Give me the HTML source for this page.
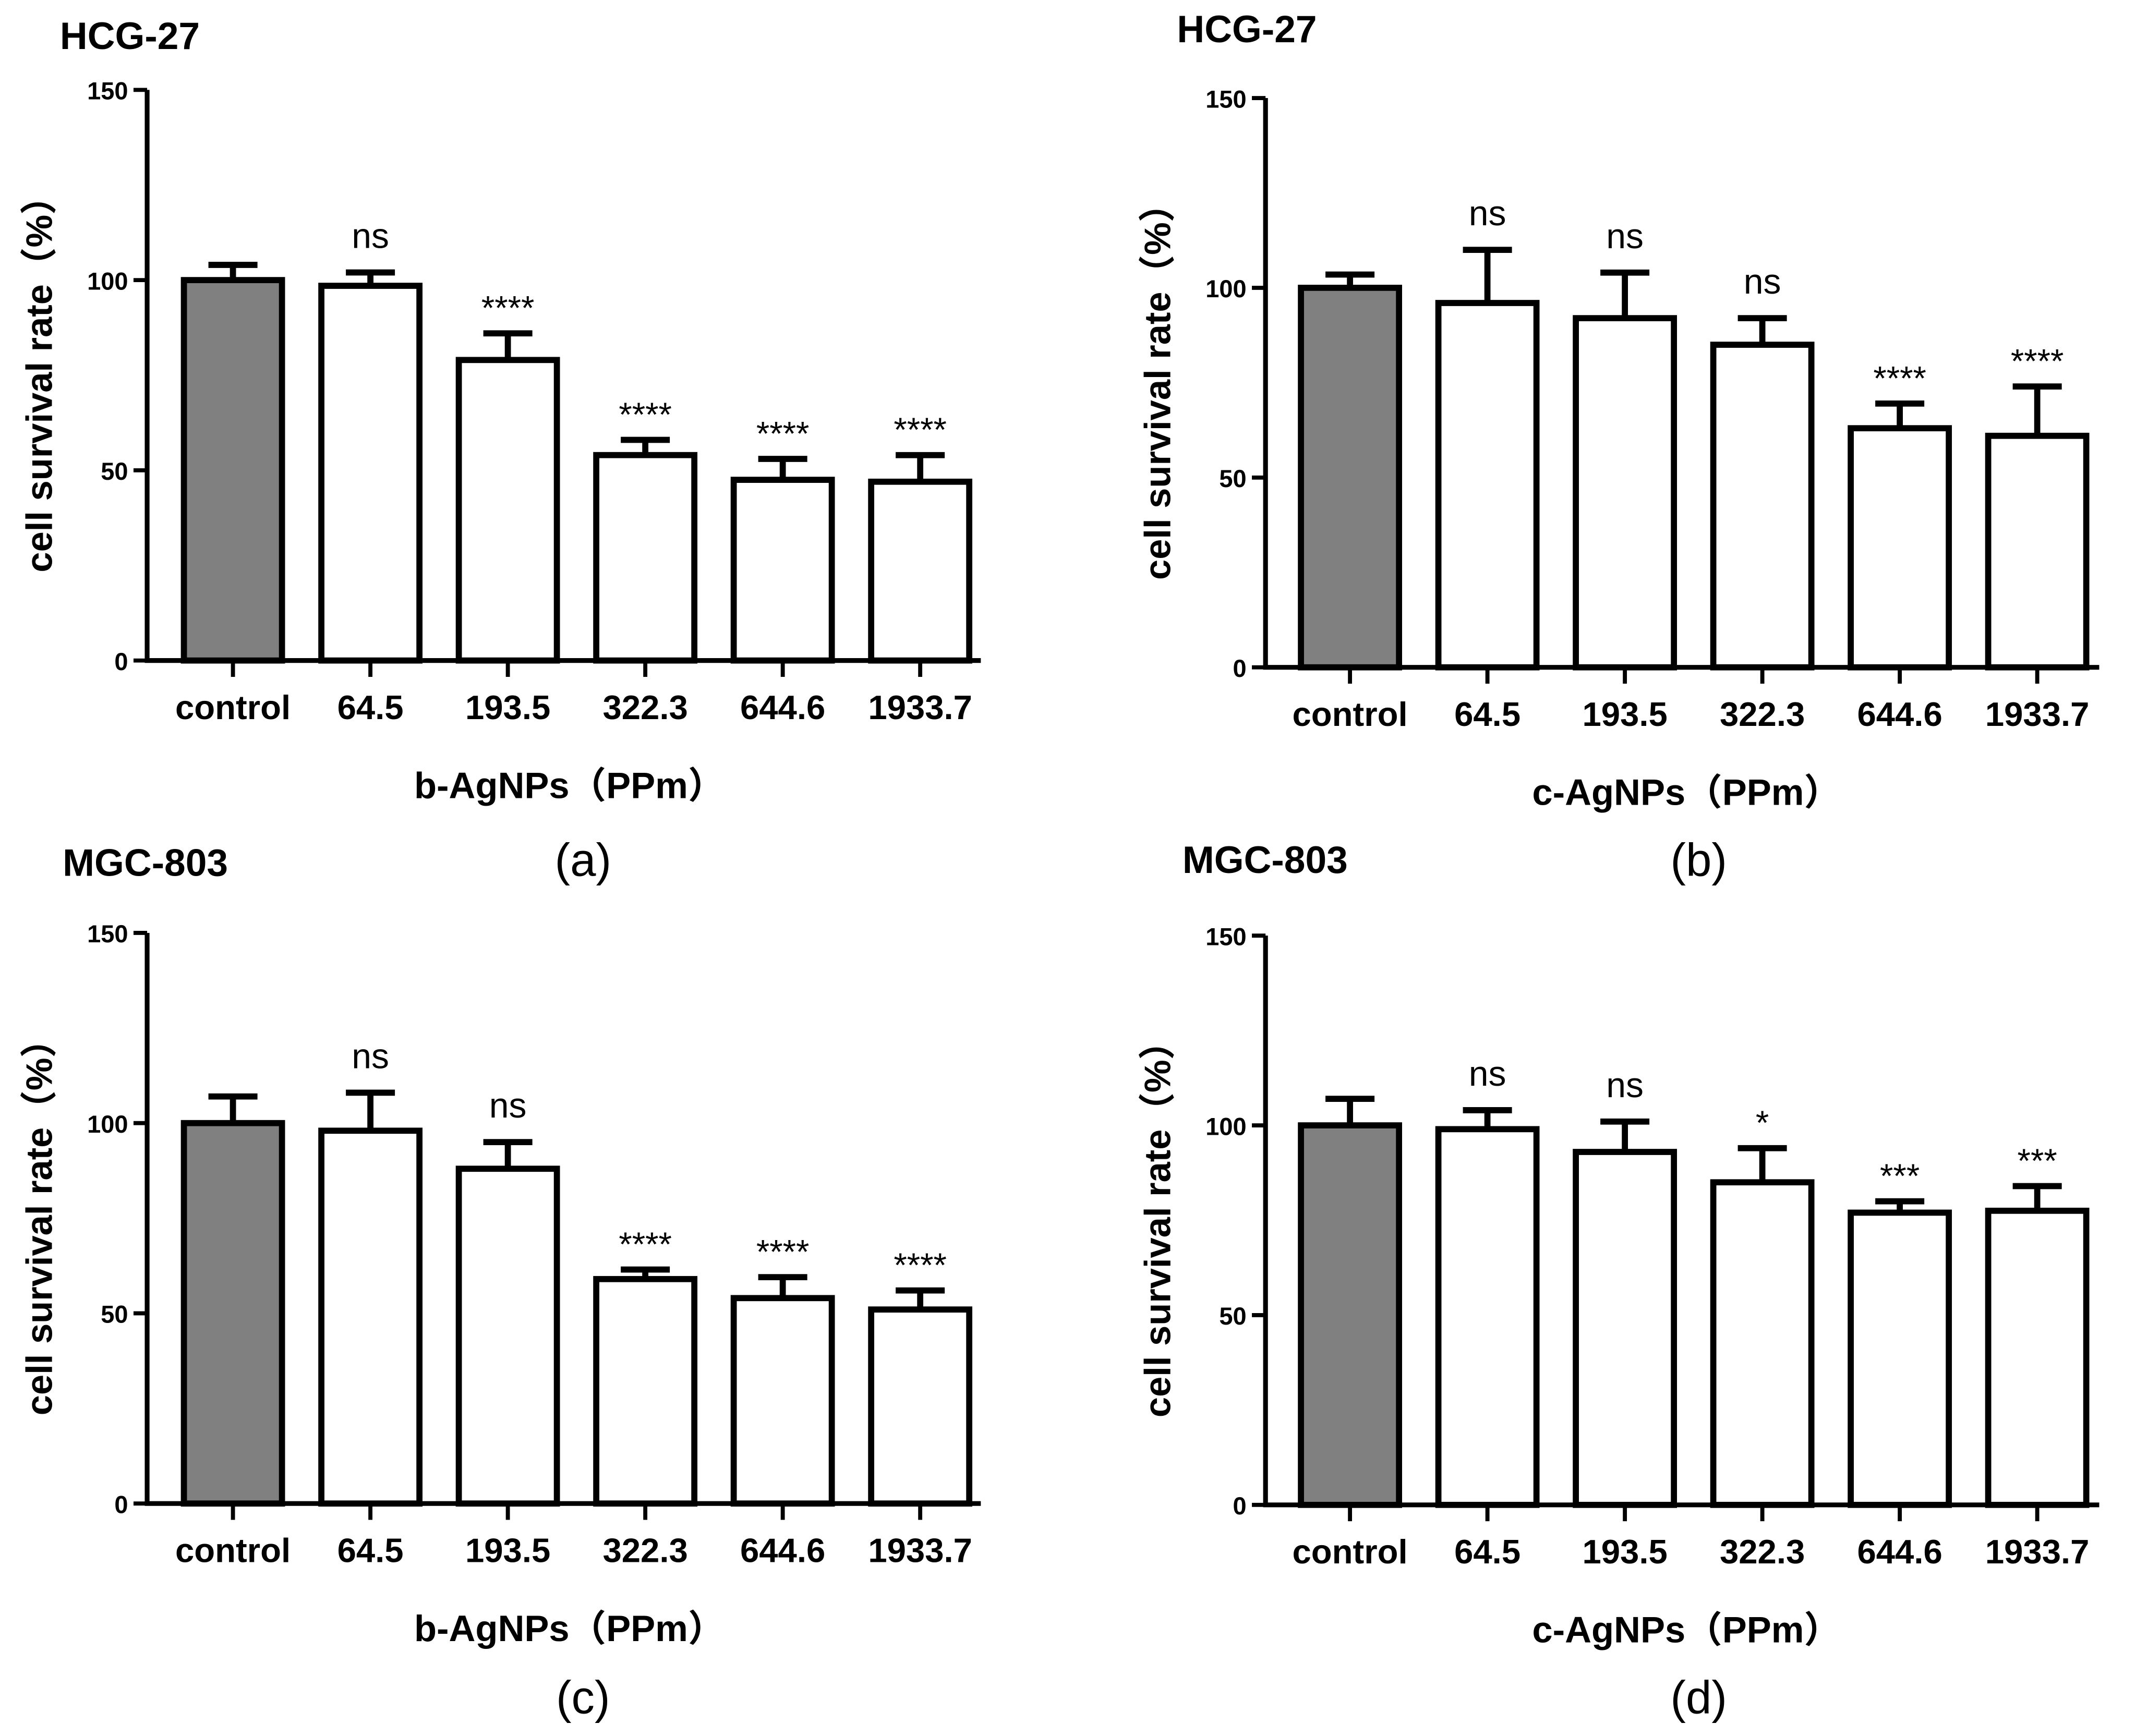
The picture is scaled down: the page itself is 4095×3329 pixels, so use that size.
<!DOCTYPE html>
<html><head><meta charset="utf-8"><style>
html,body{margin:0;padding:0;background:#fff;}
svg{display:block;}
text{font-family:"Liberation Sans","Noto Sans CJK SC",sans-serif;}
</style></head><body>
<svg id="fig" width="4095" height="3329" viewBox="0 0 1568 1274.7" xmlns="http://www.w3.org/2000/svg"></svg>
<script>
const categories = ["control","64.5","193.5","322.3","644.6","1933.7"];
const yTicks = [0,50,100,150];
const valsA = [100,98.5,79,54,47.5,47];
const errA  = [104,102,86,58,53,54];
const sigA  = ["","ns","****","****","****","****"];
const valsB = [100,96,92,85,63,61];
const errB  = [103.5,110,104,92,69.5,74];
const sigB  = ["","ns","ns","ns","****","****"];
const valsC = [100,98,88,59,54,51];
const errC  = [107,108,95,61.5,59.5,56];
const sigC  = ["","ns","ns","****","****","****"];
const valsD = [100,99,93,85,77,77.5];
const errD  = [107,104,101,94,80,84];
const sigD  = ["","ns","ns","*","***","***"];

const NS="http://www.w3.org/2000/svg";
const svg=document.getElementById('fig');
function mk(tag,attrs,parent,txt){const e=document.createElementNS(NS,tag);for(const k in attrs)e.setAttribute(k,attrs[k]);if(txt!==undefined)e.textContent=txt;parent.appendChild(e);return e;}

const panels=[
 {id:'a',ax:108,y150:66,y0:485,x0:171,title:'HCG-27',tx:44,ty:36,xt:'b-AgNPs（PPm）',xtx:418,lab:'(a)',labx:428,laby:643,vals:valsA,errs:errA,sig:sigA},
 {id:'b',ax:929,y150:72,y0:490,x0:991,title:'HCG-27',tx:864,ty:31,xt:'c-AgNPs（PPm）',xtx:1238,lab:'(b)',labx:1247,laby:643,vals:valsB,errs:errB,sig:sigB},
 {id:'c',ax:108,y150:685,y0:1104,x0:171,title:'MGC-803',tx:46,ty:643,xt:'b-AgNPs（PPm）',xtx:418,lab:'(c)',labx:428,laby:1258,vals:valsC,errs:errC,sig:sigC},
 {id:'d',ax:929,y150:687,y0:1105,x0:991,title:'MGC-803',tx:868,ty:641,xt:'c-AgNPs（PPm）',xtx:1238,lab:'(d)',labx:1247,laby:1258,vals:valsD,errs:errD,sig:sigD}
];
const step=100.9, bw=72;

panels.forEach(p=>{
  const g=mk('g',{},svg);
  
  
  const y=v=>p.y0-(v/150)*(p.y0-p.y150);
  const x=i=>p.x0+i*step;
  const t=mk('text',{x:p.tx,y:p.ty,'font-size':28,'font-weight':'bold'},g,p.title);
  
  
  p.vals.forEach((v,i)=>{
    const cx=x(i);
    const eb=mk('path',{d:`M${cx},${y(v)} V${y(p.errs[i])} M${cx-18},${y(p.errs[i])} H${cx+18}`,stroke:'#000','stroke-width':4.5,fill:'none'},g);
    
    
    const r=mk('rect',{x:cx-bw/2,y:y(v),width:bw,height:p.y0-y(v),fill:i===0?'#808080':'#fff',stroke:'#000','stroke-width':4.5},g);
    
    
    if(p.sig[i]){
      const isNs=p.sig[i]==='ns';
      const s=mk('text',{x:cx,y:y(p.errs[i])-(isNs?18:10),'font-size':isNs?26:25,'text-anchor':'middle'},g,p.sig[i]);
      
      
    }
    const tk=mk('line',{x1:cx,x2:cx,y1:p.y0,y2:p.y0+12,stroke:'#000','stroke-width':3},g);
    
    
    const tl=mk('text',{x:cx,y:p.y0+43,'font-size':25,'font-weight':'bold','text-anchor':'middle'},g,categories[i]);
    
    
  });
  const axis=mk('path',{d:`M${p.ax},${p.y150} V${p.y0} H${p.ax+612}`,stroke:'#000','stroke-width':3.5,fill:'none'},g);
  
  
  yTicks.forEach(v=>{
    const l=mk('line',{x1:p.ax-10,x2:p.ax,y1:y(v),y2:y(v),stroke:'#000','stroke-width':3},g);
    
    
    const tl=mk('text',{x:p.ax-14,y:y(v)+7,'font-size':18,'font-weight':'bold','text-anchor':'end'},g,String(v));
    
    
  });
  const ymid=(p.y150+p.y0)/2;
  const yt=mk('text',{x:0,y:0,'font-size':27,'font-weight':'bold','text-anchor':'middle',transform:`translate(${p.ax-70},${ymid}) rotate(-90)`},g,'cell survival rate（%）');
  
  
  const xt=mk('text',{x:p.xtx,y:p.y0+101,'font-size':27,'font-weight':'bold','text-anchor':'middle'},g,p.xt);
  
  
  const lb=mk('text',{x:p.labx,y:p.laby,'font-size':34,'text-anchor':'middle'},g,p.lab);
  
  
});
</script>
</body></html>
